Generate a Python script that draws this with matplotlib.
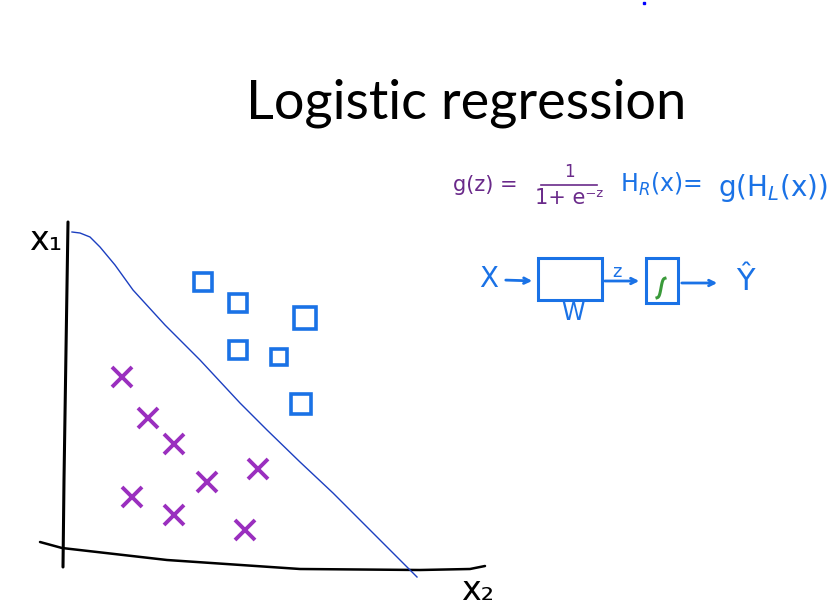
import matplotlib
matplotlib.use("Agg")
import matplotlib.pyplot as plt
from matplotlib.patches import Rectangle
import numpy as np

# Data (pixel-space sketch coordinates)
cross_x = [122, 148, 174, 207, 258, 132, 174, 245]
cross_y = [377, 418, 444, 482, 469, 497, 515, 530]
square_x = [203, 238, 305, 238, 279, 301]
square_y = [282, 303, 318, 350, 357, 404]
square_size = [13, 13, 16, 13, 12, 15]
boundary_x = [72, 80, 90, 100, 115, 133, 165, 200, 240, 267, 300, 333, 380, 417]
boundary_y = [232, 233, 237, 247, 265, 290, 325, 360, 403, 430, 462, 493, 540, 577]

W, H = 831, 613
fig = plt.figure(figsize=(W / 100, H / 100), dpi=100)
ax = fig.add_axes([0, 0, 1, 1])
ax.set_xlim(0, W)
ax.set_ylim(H, 0)
ax.axis("off")

purple = "#9a2fbf"
blue = "#1a72e6"
navy = "#1c3fc0"

# title
ax.text(466, 103, "Logistic regression", fontsize=39, family="Lato",
        ha="center", va="center", color="black")

# axes of sketch
ax.plot([68, 66, 64, 63], [222, 350, 480, 567], color="black", lw=2.2, solid_capstyle="round")
ax.plot([40, 62, 167, 300, 420, 470, 485], [542, 548, 560, 569, 570, 569, 566],
        color="black", lw=1.8, solid_capstyle="round")
ax.text(46, 241, "x\u2081", fontsize=24, family="DejaVu Sans", ha="center", va="center")
ax.text(478, 590, "x\u2082", fontsize=24, family="DejaVu Sans", ha="center", va="center")

# decision boundary
ax.plot(boundary_x, boundary_y, color=navy, lw=1.0)

# crosses and squares
ax.plot(cross_x, cross_y, ls="none", marker="x", ms=15, mew=2.8, color=purple)
for sx, sy, ss in zip(square_x, square_y, square_size):
    ax.plot([sx], [sy], ls="none", marker="s", ms=ss, mew=2.6, mfc="none", mec=blue)

# formula
fc = "#6a2a8a"
ax.text(453, 185, "g(z) =", fontsize=15, color=fc, va="center", ha="left")
ax.text(569, 181, "1", fontsize=12, color=fc, ha="center", va="bottom")
ax.plot([541, 597], [185, 185], color=fc, lw=1.2)
ax.text(569, 188, "1+ e\u207b\u1dbb", fontsize=15, color=fc, ha="center", va="top")
ax.text(620, 184, "H$_R$(x)=", fontsize=17, color=blue, va="center", ha="left")
ax.text(718, 188, "g(H$_L$(x))", fontsize=20, color=blue, va="center", ha="left")

# diagram
ax.text(489, 279, "X", fontsize=20, color=blue, ha="center", va="center")
ax.annotate("", xy=(535, 281), xytext=(503, 280),
            arrowprops=dict(arrowstyle="->", color=blue, lw=2))
ax.add_patch(Rectangle((538, 258), 64, 42, fill=False, ec=blue, lw=2.2))
ax.text(573, 313, "W", fontsize=17, color=blue, ha="center", va="center")
ax.text(617, 272, "z", fontsize=13, color=blue, ha="center", va="center")
ax.annotate("", xy=(642, 281), xytext=(602, 281),
            arrowprops=dict(arrowstyle="->", color=blue, lw=2))
ax.add_patch(Rectangle((646, 258), 32, 45, fill=False, ec=blue, lw=2.2))
t = np.linspace(-1, 1, 30)
ax.plot(661 + 4 * t, 288 - 10 * np.tanh(2.2 * t), color="#3a9a3a", lw=2.2)
ax.annotate("", xy=(720, 283), xytext=(679, 283),
            arrowprops=dict(arrowstyle="->", color=blue, lw=2))
ax.text(745, 282, "\u0176", fontsize=22, color=blue, ha="center", va="center")

# tiny dot
ax.plot([644], [3], marker="s", ms=2, color="blue", ls="none")

fig.savefig("out.png", dpi=100)
